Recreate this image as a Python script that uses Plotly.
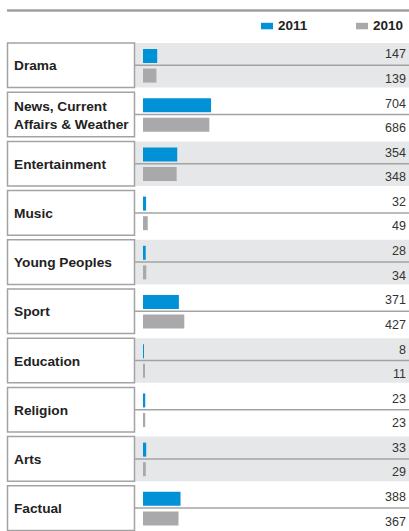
import plotly.graph_objects as go

categories = ["Drama", "News, Current<br>Affairs & Weather", "Entertainment", "Music",
              "Young Peoples", "Sport", "Education", "Religion", "Arts", "Factual"]
values_2011 = [147, 704, 354, 32, 28, 371, 8, 23, 33, 388]
values_2010 = [139, 686, 348, 49, 34, 427, 11, 23, 29, 367]
years = ["2011", "2010"]

W, H = 409, 531
BLUE = "#0091d7"
GREY = "#a9a9ac"
BAND = "#e6e7e9"
LINE = "#a3a3a3"

PERIOD = 49.2          # px per category
TOP = 65.3             # px centre of first category
PX_PER_UNIT = 0.0967
ZERO_PX = 143

n = len(categories)
idx = list(range(n))
u = 1.0 / PERIOD       # y-units per px

off11 = -9.3 * u
off10 = 10.3 * u
bw = 14 * u

fig = go.Figure()
fig.add_trace(go.Bar(orientation="h", x=values_2011, y=[i + off11 for i in idx],
                     width=bw, marker=dict(color=BLUE, line=dict(width=0)),
                     name=years[0], hoverinfo="skip"))
fig.add_trace(go.Bar(orientation="h", x=values_2010, y=[i + off10 for i in idx],
                     width=bw, marker=dict(color=GREY, line=dict(width=0)),
                     name=years[1], hoverinfo="skip"))

FONT = "Liberation Sans, Arial, Helvetica"
shapes = []
ann = []
half = 22.3 * u
for i in idx:
    if i % 2 == 0:
        shapes.append(dict(type="rect", xref="paper", yref="y", x0=135 / W, x1=1,
                           y0=i - half, y1=i + half, fillcolor=BAND, line=dict(width=0),
                           layer="below"))
    shapes.append(dict(type="rect", xref="paper", yref="y", x0=7.5 / W, x1=134.5 / W,
                       y0=i - half, y1=i + half, fillcolor="white",
                       line=dict(color=LINE, width=1.5), layer="above"))
    shapes.append(dict(type="line", xref="paper", yref="y", x0=134.5 / W, x1=1,
                       y0=i, y1=i, line=dict(color=LINE, width=1.5), layer="below"))
    ann.append(dict(xref="paper", yref="y", x=11.5 / W, y=i + 0.5 * u,
                    text="<b>%s</b>" % categories[i],
                    xanchor="left", yanchor="middle", showarrow=False, align="left",
                    font=dict(size=13.7, color="#222222", family=FONT)))
    ann.append(dict(xref="paper", yref="y", x=408 / W, y=i - 11 * u, text=str(values_2011[i]),
                    xanchor="right", yanchor="middle", showarrow=False,
                    font=dict(size=12.5, color="#333333", family=FONT)))
    ann.append(dict(xref="paper", yref="y", x=408 / W, y=i + 13.5 * u, text=str(values_2010[i]),
                    xanchor="right", yanchor="middle", showarrow=False,
                    font=dict(size=12.5, color="#333333", family=FONT)))

# top rule
shapes.append(dict(type="line", xref="paper", yref="paper", x0=7 / W, x1=1,
                   y0=1 - 10.5 / H, y1=1 - 10.5 / H, line=dict(color="#a0a0a0", width=2.5)))
# legend
for col, x0, lab in [(BLUE, 261, years[0]), (GREY, 356, years[1])]:
    shapes.append(dict(type="rect", xref="paper", yref="paper", x0=x0 / W, x1=(x0 + 12) / W,
                       y0=1 - 29.3 / H, y1=1 - 22.8 / H, fillcolor=col, line=dict(width=0)))
    ann.append(dict(xref="paper", yref="paper", x=(x0 + 15) / W, y=1 - 25.5 / H,
                    text="<b>%s</b>" % lab, xanchor="left", yanchor="middle", showarrow=False,
                    font=dict(size=13.5, color="#222222", family=FONT)))

xmin = -ZERO_PX / PX_PER_UNIT
xmax = (W - ZERO_PX) / PX_PER_UNIT
fig.update_layout(
    width=W, height=H, margin=dict(l=0, r=0, t=0, b=0),
    paper_bgcolor="white", plot_bgcolor="rgba(0,0,0,0)",
    barmode="overlay", showlegend=False,
    xaxis=dict(range=[xmin, xmax], visible=False, fixedrange=True),
    yaxis=dict(range=[(H - TOP) * u, -TOP * u], visible=False, fixedrange=True),
    shapes=shapes, annotations=ann,
)
fig.write_html("out.html")
